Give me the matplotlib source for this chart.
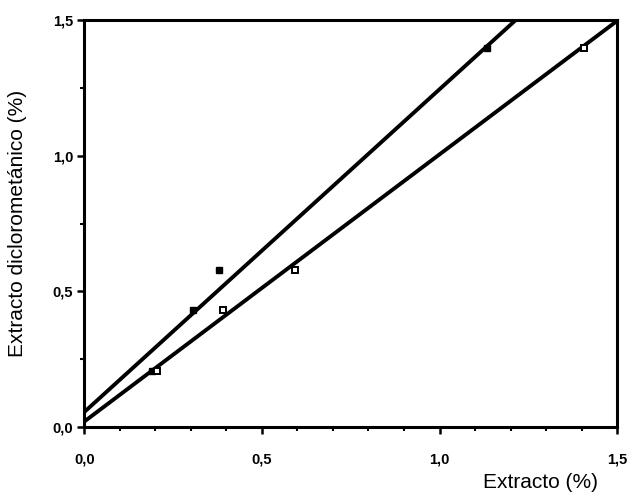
import matplotlib
matplotlib.use("Agg")
import matplotlib.pyplot as plt
import numpy as np
from matplotlib.ticker import MultipleLocator, FuncFormatter

# Data
x_filled = [0.19, 0.307, 0.38, 1.134]
y_filled = [0.205, 0.431, 0.579, 1.397]
x_open = [0.205, 0.391, 0.594, 1.407]
y_open = [0.205, 0.431, 0.579, 1.397]
# Regression lines: intercept, slope
fit_filled = (0.055, 1.19)
fit_open = (0.02, 0.985)

fig = plt.figure(figsize=(6.33, 5.03), dpi=100)
ax = fig.add_axes([0.133, 0.151, 0.842, 0.809])

xs = np.array([0.0, 1.5])
ax.plot(xs, fit_filled[0] + fit_filled[1] * xs, color="black", lw=2.8, solid_capstyle="butt")
ax.plot(xs, fit_open[0] + fit_open[1] * xs, color="black", lw=2.8, solid_capstyle="butt")
ax.plot(x_filled, y_filled, "s", color="black", ms=5, zorder=3)
ax.plot(x_open, y_open, "s", mfc="white", mec="black", mew=1.4, ms=4.8, zorder=3)

ax.set_xlim(0, 1.5)
ax.set_ylim(0, 1.5)
ax.xaxis.set_major_locator(MultipleLocator(0.5))
ax.xaxis.set_minor_locator(MultipleLocator(0.1))
ax.yaxis.set_major_locator(MultipleLocator(0.5))
ax.yaxis.set_minor_locator(MultipleLocator(0.25))
fmt = FuncFormatter(lambda v, p: f"{v:.1f}".replace(".", ","))
ax.xaxis.set_major_formatter(fmt)
ax.yaxis.set_major_formatter(fmt)

for s in ax.spines.values():
    s.set_linewidth(2.2)
ax.tick_params(which="major", direction="out", length=5, width=1.8, pad=13)
ax.tick_params(which="minor", direction="out", length=3, width=1.5)
ax.tick_params(axis="y", which="major", pad=3)
for lab in ax.get_xticklabels() + ax.get_yticklabels():
    lab.set_fontfamily("Liberation Sans")
    lab.set_fontweight("bold")
    lab.set_fontsize(10.5)

fig.text(0.945, 0.04, "Extracto (%)", ha="right", va="center",
         fontsize=15, family="Liberation Sans")
fig.text(0.028, 0.555, "Extracto diclorometánico (%)", ha="center", va="center",
         rotation=90, fontsize=15, family="Liberation Sans")

fig.savefig("out.png", dpi=100)
